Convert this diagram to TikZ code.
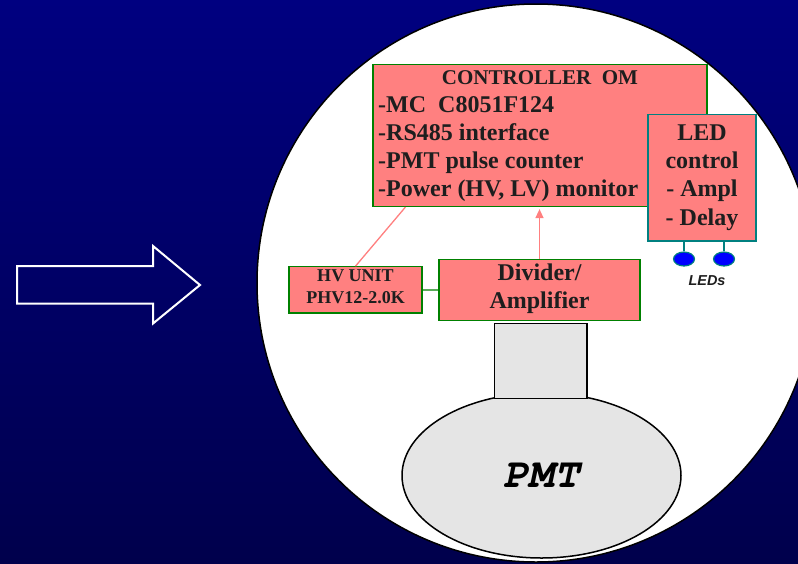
\documentclass[tikz,border=0pt]{standalone}
\usepackage{fontspec}
\setmainfont{Liberation Serif}
\newfontfamily\pmtfont{TeX Gyre Cursor}
\newfontfamily\ledfont{Liberation Sans}
\usetikzlibrary{calc,arrows.meta,shapes.geometric}

\definecolor{navytop}{RGB}{0,0,128}
\definecolor{navymid}{RGB}{0,0,86}
\definecolor{navybot}{RGB}{0,0,76}
\definecolor{salmon}{RGB}{255,128,128}
\definecolor{boxgreen}{RGB}{0,128,0}
\definecolor{boxteal}{RGB}{0,128,128}
\definecolor{bulbgray}{RGB}{229,229,229}
\definecolor{ledblue}{RGB}{0,0,255}
\definecolor{inkgray}{RGB}{30,30,30}

\tikzset{
  blockbox/.style={rectangle, draw=boxgreen, fill=salmon, line width=1.2pt, inner sep=0pt},
  ledbox/.style={rectangle, draw=boxteal, fill=salmon, line width=1.2pt, inner sep=0pt},
  bigtext/.style={font=\bfseries\fontsize{24}{28}\selectfont, text=inkgray, inner sep=0pt, anchor=base},
  leftline/.style={bigtext, anchor=base west},
  titletext/.style={font=\bfseries\fontsize{21}{25}\selectfont, text=inkgray, inner sep=0pt, anchor=base},
  smalltext/.style={font=\bfseries\fontsize{18}{21}\selectfont, text=inkgray, inner sep=0pt, anchor=base},
  grayshape/.style={draw=black, fill=bulbgray, line width=1.5pt, inner sep=0pt},
  ledbulb/.style={ellipse, draw=boxteal, fill=ledblue, line width=1.2pt, inner sep=0pt,
                  minimum width=21pt, minimum height=14pt},
  pinkwire/.style={draw=salmon, line width=1.3pt},
  greenwire/.style={draw=boxgreen, line width=1.2pt},
  tealwire/.style={draw=boxteal, line width=1.2pt}
}

\begin{document}
\begin{tikzpicture}[x=1pt,y=-1pt]
  % page and backdrop
  \clip (0,0) rectangle (798,563);
  \shade[top color=navytop, middle color=navymid, bottom color=navybot] (0,0) rectangle (798,563);

  % optical module sphere
  \draw[fill=white, line width=1.5pt] (536,283) circle[radius=279pt];

  % hollow arrow on the left
  \draw[white, line width=2pt, line join=miter]
    (17,266) -- (153,266) -- (153,246) -- (200,285) -- (153,323.5) -- (153,303.5) -- (17,303.5) -- cycle;

  % controller board
  \node[blockbox, minimum width=334pt, minimum height=142pt] (ctrl) at (540,135.5) {};
  \node[titletext] (ctrltitle) at (540,84.3) {CONTROLLER\ \ OM};
  \node[leftline] (ctrlmc)  at (378,112.3) {-MC\ \ C8051F124};
  \node[leftline] (ctrlrs)  at (378,140.0) {-RS485 interface};
  \node[leftline] (ctrlcnt) at (378,168.3) {-PMT pulse counter};
  \node[leftline] (ctrlpwr) at (378,196.7) {-Power (HV, LV) monitor};

  % LED control board
  \node[ledbox, minimum width=108pt, minimum height=126.5pt] (ledc) at (702,177.8) {};
  \node[bigtext] (ledl1) at (702,140.7) {LED};
  \node[bigtext] (ledl2) at (702,168.3) {control};
  \node[bigtext] (ledl3) at (702,196.7) {- Ampl};
  \node[bigtext] (ledl4) at (702,225.0) {- Delay};

  % LEDs
  \node[ledbulb] (led1) at (684,259) {};
  \node[ledbulb] (led2) at (724,259) {};
  \draw[tealwire] (led1.north |- ledc.south) -- (led1.north);
  \draw[tealwire] (led2.north |- ledc.south) -- (led2.north);
  \node[font=\ledfont\bfseries\itshape\fontsize{14.4}{16}\selectfont, text=inkgray,
        inner sep=0pt, anchor=base] (ledname) at (707,285) {LEDs};

  % HV unit
  \node[blockbox, minimum width=133pt, minimum height=46.3pt] (hv) at (355.5,289.9) {};
  \node[smalltext] (hvl1) at (355.5,281.7) {HV UNIT};
  \node[smalltext] (hvl2) at (355.5,303.3) {PHV12-2.0K};

  % divider / amplifier
  \node[blockbox, minimum width=201pt, minimum height=61.2pt] (div) at (539.5,290) {};
  \node[bigtext] (divl1) at (539.5,280.7) {Divider/};
  \node[bigtext] (divl2) at (539.5,308.3) {Amplifier};

  % photomultiplier bulb and neck
  \node[grayshape, ellipse, minimum width=279pt, minimum height=165pt,
        font=\pmtfont\bfseries\itshape\fontsize{42}{46}\selectfont] (pmt) at (541.5,475.5) {PMT};
  \node[grayshape, rectangle, minimum width=92.5pt, minimum height=75pt] (neck) at (540.75,361) {};

  % connections
  \draw[greenwire] (hv.east) -- (div.west);
  \draw[pinkwire] (hv.north) -- ($(ctrl.south west)+(33,0)$);
  \draw[pinkwire, -{Triangle[width=8pt,length=9pt]}]
    (div.north) -- ($(div.north |- ctrl.south)+(0,2)$);
\end{tikzpicture}
\end{document}
